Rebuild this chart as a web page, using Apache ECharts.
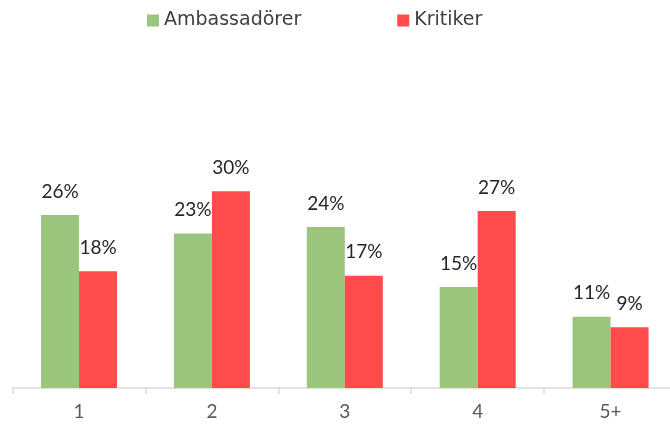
<!DOCTYPE html>
<html><head><meta charset="utf-8">
<script src="https://cdn.jsdelivr.net/npm/echarts@6/dist/echarts.min.js"></script>
<style>html,body{margin:0;padding:0;background:#fff;overflow:hidden}#c{width:677px;height:424px}</style>
</head><body><div id="c"></div>
<script>
var categories = ['1', '2', '3', '4', '5+'];
var ambassadorer = [26.2, 23.4, 24.4, 15.3, 10.8];
var kritiker = [17.7, 29.8, 17.0, 26.8, 9.2];
var seriesNames = ['Ambassadörer', 'Kritiker'];
var FONT = 'Lato';
var chart = echarts.init(document.getElementById('c'));
var lbl = {show: true, position: 'top', distance: 14, fontFamily: FONT, fontSize: 19, color: '#262626',
  formatter: function(p){ return Math.round(p.value) + '%'; }};
chart.setOption({
  animation: false,
  legend: {top: 6, left: 142, itemWidth: 12, itemHeight: 12, itemGap: 96,
    icon: 'rect', textStyle: {fontFamily: 'DejaVu Sans', fontSize: 19, color: '#404040'},
    data: seriesNames},
  grid: {left: 12.6, right: 0, top: 124, bottom: 36},
  xAxis: {type: 'category', data: categories,
    axisLine: {lineStyle: {color: '#d9d9d9', width: 1.5}},
    axisTick: {show: true, length: 6, lineStyle: {color: '#d9d9d9', width: 1.5}},
    axisLabel: {fontFamily: FONT, fontSize: 19, color: '#595959', margin: 14}},
  yAxis: {type: 'value', min: 0, max: 40, show: false, splitLine: {show: false}},
  series: [
    {name: seriesNames[0], type: 'bar', data: ambassadorer, barGap: '0%', barCategoryGap: '42.8%',
      itemStyle: {color: '#9BC57D'}, label: lbl},
    {name: seriesNames[1], type: 'bar', data: kritiker, barGap: '0%', barCategoryGap: '42.8%',
      itemStyle: {color: '#FF4B4B'}, label: lbl}
  ]
});
</script></body></html>
